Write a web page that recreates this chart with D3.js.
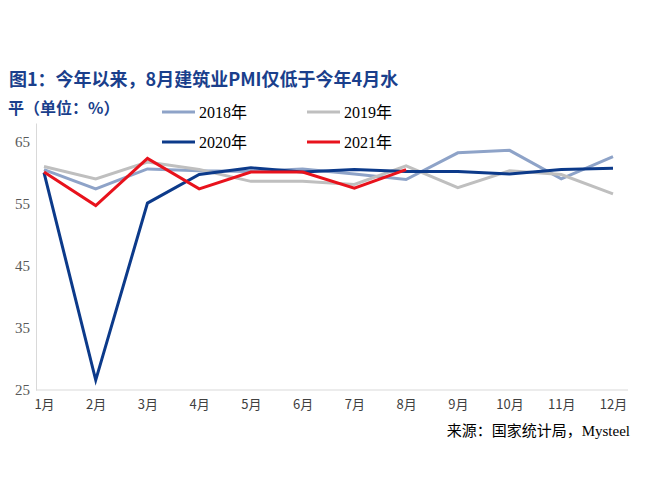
<!DOCTYPE html><html><head><meta charset="utf-8">
<script src="https://cdn.jsdelivr.net/npm/d3@7"></script>
<style>body{margin:0;background:#fff}</style></head><body>
<svg id="c" width="645" height="500"></svg>
<script>
const months=["1月","2月","3月","4月","5月","6月","7月","8月","9月","10月","11月","12月"];
const s2018=[60.5,57.4,60.6,60.3,60.2,60.6,59.8,58.9,63.2,63.6,59.0,62.6];
const s2019=[61.0,59.0,61.7,60.5,58.6,58.6,58.1,61.1,57.6,60.3,59.7,56.6];
const s2020=[60.0,26.6,55.1,59.7,60.8,60.1,60.5,60.2,60.2,59.8,60.5,60.7];
const s2021=[60.1,54.7,62.3,57.4,60.1,60.1,57.5,60.5];
const yTicks=[25,35,45,55,65];
const series=[{n:"2018年",d:s2018,c:"#8ea3c8"},{n:"2019年",d:s2019,c:"#bfbfbf"},{n:"2020年",d:s2020,c:"#0c3a8a"},{n:"2021年",d:s2021,c:"#e8121c"}];
const svg=d3.select("#c");
const x=d3.scalePoint().domain(months).range([44,613]);
const y=d3.scaleLinear().domain([25,68]).range([390,123]);
svg.append("text").attr("x",9).attr("y",86).attr("fill","#1a3f8c").attr("font-size",18).attr("font-weight","bold").attr("font-family","'Noto Sans CJK SC', serif").text("图1：今年以来，8月建筑业PMI仅低于今年4月水");
svg.append("text").attr("x",8).attr("y",114).attr("fill","#1a3f8c").attr("font-size",16).attr("font-weight","bold").attr("font-family","'Noto Sans CJK SC', serif").text("平（单位：%）");
const ya=svg.append("g").attr("transform","translate(36,0)").call(d3.axisLeft(y).tickValues(yTicks).tickSize(0).tickPadding(6));
ya.select(".domain").attr("stroke","#d9d9d9");
ya.selectAll("text").attr("font-family","'Liberation Serif'").attr("font-size",15).attr("fill","#595959");
const xa=svg.append("g").attr("transform","translate(0,390)").call(d3.axisBottom(x).tickSize(0).tickPadding(10));
xa.select(".domain").attr("d","M36,0H628").attr("stroke","#d9d9d9");
xa.selectAll("text").attr("font-family","'Noto Sans CJK SC'").attr("font-size",13).attr("fill","#404040");
const line=d3.line().x((d,i)=>x(months[i])).y(d=>y(d));
series.forEach(s=>svg.append("path").attr("d",line(s.d)).attr("fill","none").attr("stroke",s.c).attr("stroke-width",3));
const lg=[[162,112],[307,112],[162,142],[307,142]];
series.forEach((s,i)=>{const [lx,ly]=lg[i];
 svg.append("line").attr("x1",lx).attr("x2",lx+33).attr("y1",ly).attr("y2",ly).attr("stroke",s.c).attr("stroke-width",3);
 svg.append("text").attr("x",lx+37).attr("y",ly+6).attr("font-size",16).attr("font-family","'Liberation Serif','Noto Sans CJK SC'").attr("fill","#000").text(s.n);});
svg.append("text").attr("x",630).attr("y",436).attr("text-anchor","end").attr("font-size",15).attr("font-family","'Liberation Serif','Noto Sans CJK SC'").attr("fill","#000").text("来源：国家统计局，Mysteel");
</script></body></html>
